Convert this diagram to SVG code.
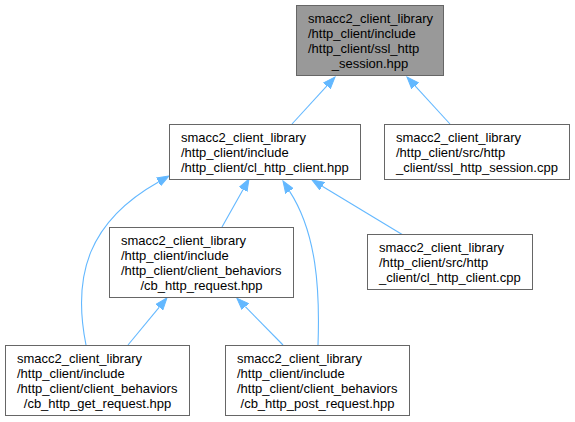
<svg xmlns="http://www.w3.org/2000/svg" width="575" height="422" viewBox="0 0 575 422">
<style>
.box{fill:#ffffff;stroke:#666666;stroke-width:1}
.cur{fill:#999999;stroke:#666666;stroke-width:1}
text{font-family:"Liberation Sans",Arial,Helvetica,sans-serif;font-size:13px;fill:#000000}
.m{text-anchor:middle}
.e{fill:none;stroke:#63b8ff;stroke-width:1.1;marker-end:url(#ah)}
</style>
<defs>
<marker id="ah" markerUnits="userSpaceOnUse" markerWidth="13" markerHeight="10" refX="0" refY="4.5" orient="auto" viewBox="0 0 13 9">
<path d="M0,0 L12,4.5 L0,9 z" fill="#63b8ff" stroke="#63b8ff" stroke-width="1"/>
</marker>
</defs>
<rect width="575" height="422" fill="#ffffff"/>
<g id="connectors">
<path class="e" d="M292,124 L326.9,85.9"/>
<path class="e" d="M450,124 L415.1,85.9"/>
<path class="e" d="M222,227 L243.1,189.5"/>
<path class="e" d="M86,345 C72,275 88.8,221.1 158.5,181.9"/>
<path class="e" d="M318,345 C320,290 316.7,233 289.5,191.1"/>
<path class="e" d="M403,235 L322.3,186.2"/>
<path class="e" d="M128,345 L159.3,307.2"/>
<path class="e" d="M283,345 L245.3,306.7"/>
</g>
<g id="node_ssl_http_session_hpp">
<rect class="cur" x="296.5" y="5.5" width="147" height="70"/>
<text x="308" y="23">smacc2_client_library</text>
<text x="308" y="38">/http_client/include</text>
<text x="308" y="53">/http_client/ssl_http</text>
<text class="m" x="370" y="68">_session.hpp</text>
</g>
<g id="node_cl_http_client_hpp">
<rect class="box" x="169.5" y="124.5" width="191" height="55"/>
<text x="181" y="142">smacc2_client_library</text>
<text x="181" y="157">/http_client/include</text>
<text x="181" y="172">/http_client/cl_http_client.hpp</text>
</g>
<g id="node_ssl_http_session_cpp">
<rect class="box" x="384.5" y="124.5" width="185" height="55"/>
<text x="396" y="142">smacc2_client_library</text>
<text x="396" y="157">/http_client/src/http</text>
<text x="396" y="172">_client/ssl_http_session.cpp</text>
</g>
<g id="node_cb_http_request_hpp">
<rect class="box" x="109.5" y="227.5" width="184" height="70"/>
<text x="121" y="245">smacc2_client_library</text>
<text x="121" y="260">/http_client/include</text>
<text x="121" y="275">/http_client/client_behaviors</text>
<text class="m" x="201.5" y="290">/cb_http_request.hpp</text>
</g>
<g id="node_cl_http_client_cpp">
<rect class="box" x="367.5" y="234.5" width="165" height="55"/>
<text x="379" y="252">smacc2_client_library</text>
<text x="379" y="267">/http_client/src/http</text>
<text x="379" y="282">_client/cl_http_client.cpp</text>
</g>
<g id="node_cb_http_get_request_hpp">
<rect class="box" x="5.5" y="345.5" width="184" height="70"/>
<text x="17" y="363">smacc2_client_library</text>
<text x="17" y="378">/http_client/include</text>
<text x="17" y="393">/http_client/client_behaviors</text>
<text class="m" x="97.5" y="408">/cb_http_get_request.hpp</text>
</g>
<g id="node_cb_http_post_request_hpp">
<rect class="box" x="225.5" y="345.5" width="184" height="70"/>
<text x="237" y="363">smacc2_client_library</text>
<text x="237" y="378">/http_client/include</text>
<text x="237" y="393">/http_client/client_behaviors</text>
<text class="m" x="317.5" y="408">/cb_http_post_request.hpp</text>
</g>
</svg>
